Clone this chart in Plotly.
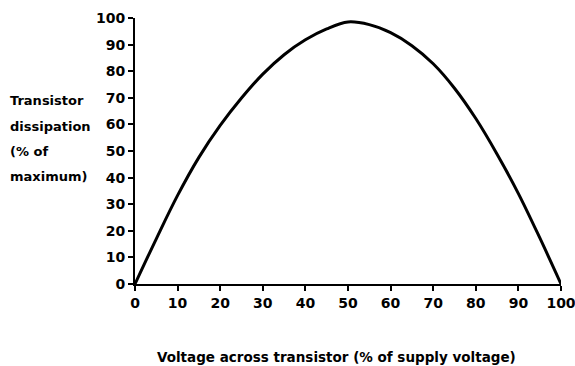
import plotly.graph_objects as go

# Voltage across transistor (% of supply) and the resulting dissipation (% of max)
voltage_pct = [0, 5, 10, 15, 20, 25, 30, 35, 40, 45, 50,
               55, 60, 65, 70, 75, 80, 85, 90, 95, 100]
dissipation_pct = [0, 17.0, 33.3, 47.6, 59.6, 69.9, 78.9, 86.2, 91.8, 95.9, 98.5,
                   97.5, 94.5, 89.6, 82.8, 73.6, 62.2, 48.8, 34.0, 17.4, 0]

tick_vals = list(range(0, 101, 10))
tick_text = [str(v) for v in tick_vals]

y_title_lines = ["Transistor", "dissipation", "(% of", "maximum)"]
x_title = "Voltage across transistor (% of supply voltage)"

FONT = "DejaVu Sans"
W, H = 575, 366
L, R, T, B = 135, 14, 18, 82
PW, PH = W - L - R, H - T - B

fig = go.Figure()
fig.add_trace(go.Scatter(
    x=voltage_pct, y=dissipation_pct, mode="lines",
    line=dict(color="black", width=3, shape="spline", smoothing=1.0),
    hoverinfo="skip", showlegend=False,
))

axis_common = dict(
    range=[0, 100], tickvals=tick_vals, ticktext=tick_text,
    showgrid=False, zeroline=False, showline=True, linecolor="black",
    linewidth=2, ticks="outside", ticklen=5, tickwidth=1.5, tickcolor="black",
    tickfont=dict(family=FONT, size=14, color="black", weight="bold"),
    ticklabeloverflow="allow", automargin=False, fixedrange=True,
)
fig.update_xaxes(**axis_common)
fig.update_yaxes(**axis_common)


def px_to_paper(px, py):
    return (px - L) / PW, (H - B - py) / PH


annotations = []
for i, line in enumerate(y_title_lines):
    xp, yp = px_to_paper(8, 101 + i * 25)
    annotations.append(dict(
        text=line, x=xp, y=yp, xref="paper", yref="paper",
        xanchor="left", yanchor="middle", showarrow=False,
        font=dict(family=FONT, size=13, color="black", weight="bold"),
    ))
xp, yp = px_to_paper(336, 357)
annotations.append(dict(
    text=x_title, x=xp, y=yp, xref="paper", yref="paper",
    xanchor="center", yanchor="middle", showarrow=False,
    font=dict(family=FONT, size=13.5, color="black", weight="bold"),
))

fig.update_layout(
    width=W, height=H,
    margin=dict(l=L, r=R, t=T, b=B, autoexpand=False),
    paper_bgcolor="white", plot_bgcolor="white",
    annotations=annotations,
)

fig.write_html("out.html", config={"displayModeBar": False})
